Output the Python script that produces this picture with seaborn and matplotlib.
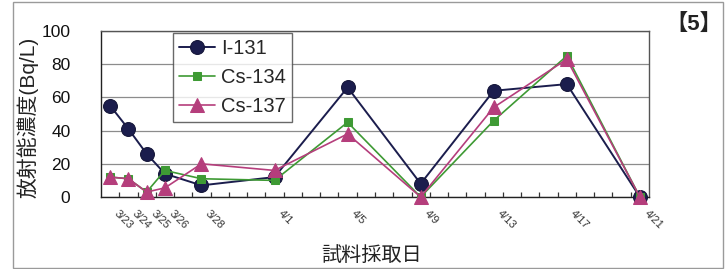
import matplotlib
matplotlib.use("Agg")
import matplotlib.pyplot as plt
import matplotlib.patches as mpatches
import matplotlib.transforms as mtransforms
import seaborn as sns
import pandas as pd
import numpy as np

# ---- data ----
dates = ["3/23", "3/24", "3/25", "3/26", "3/28", "4/1", "4/5", "4/9", "4/13", "4/17", "4/21"]
i131 = [55, 41, 26, 14, 7, 12, 66, 8, 64, 68, 0]
cs134 = [12, 11, 3, 16, 11, 10, 45, 0, 46, 85, 0]
cs137 = [12, 11, 3, 5.5, 20, 16, 38, 0, 54, 83, 0]
series_names = ["I-131", "Cs-134", "Cs-137"]
y_ticks = [0, 20, 40, 60, 80, 100]

sns.set_theme(style="white")
plt.rcParams['font.family'] = ['Liberation Sans', 'Noto Sans CJK JP', 'DejaVu Sans']

dt = pd.to_datetime(["2011/" + d for d in dates])
day = (dt - dt[0]).days.values
n_days = int(day[-1]) + 1

df = pd.DataFrame({"day": day, "I-131": i131, "Cs-134": cs134, "Cs-137": cs137})
long = df.melt(id_vars="day", var_name="nuclide", value_name="value")

fig = plt.figure(figsize=(7.28, 2.69), dpi=100)
ax = fig.add_axes([101/728, 1-197/269, 548/728, 166/269])

styles = {
    "I-131": dict(color="#1b1d4d", marker="o", markersize=10, linewidth=1.4, mec="#141538"),
    "Cs-134": dict(color="#3e9a34", marker="s", markersize=6, linewidth=1.2, mec="#3e9a34"),
    "Cs-137": dict(color="#b53e7c", marker="^", markersize=10.5, linewidth=1.2, mec="#b53e7c"),
}
for k, name in enumerate(series_names):
    st = styles[name]
    sub = long[long.nuclide == name]
    sns.lineplot(data=sub, x="day", y="value", ax=ax, color=st["color"], marker=st["marker"],
                 markersize=st["markersize"], linewidth=st["linewidth"],
                 markeredgecolor=st["mec"], label=name, zorder=3 + k, clip_on=False)

ax.set_xlim(-0.5, n_days - 0.5)
ax.set_ylim(0, 100)
ax.set_yticks(y_ticks)
ax.set_yticklabels([str(v) for v in y_ticks], fontsize=12.5)
ax.tick_params(axis='y', length=0, pad=22, colors="#111111")
ax.yaxis.grid(True, color="#8c8c8c", linewidth=0.9)
ax.set_axisbelow(True)

ax.set_xticks(day)
ax.set_xticklabels(dates, fontsize=8, rotation=-45, ha='left', va='top')
ax.set_xticks(np.arange(n_days - 1) + 0.5, minor=True)
ax.tick_params(axis='x', which='major', length=0, pad=8.5, colors="#333333")
ax.tick_params(axis='x', which='minor', direction='in', length=3.5, width=0.9, color="#333333", bottom=True)
offset = mtransforms.ScaledTranslation(2/100, 0, fig.dpi_scale_trans)
for lbl in ax.get_xticklabels():
    lbl.set_transform(lbl.get_transform() + offset)

for sp in ax.spines.values():
    sp.set_color("#555555")
    sp.set_linewidth(1.0)
ax.spines['bottom'].set_color("#222222")
ax.spines['left'].set_color("#222222")

ax.set_xlabel("")
ax.set_ylabel("")
fig.text(28/728, 1-117/269, "放射能濃度(Bq/L)", rotation=90, ha='center', va='center', fontsize=15,
         color="#222222")
fig.text(372/728, 1-255/269, "試料採取日", ha='center', va='center', fontsize=14.5, color="#222222")
fig.text(694/728, 1-25/269, "【5】", ha='center', va='center', fontsize=16, color="#222222",
         fontweight='bold')

leg = ax.legend(loc='upper left', bbox_to_anchor=(173/728, 1-33/269), bbox_transform=fig.transFigure,
                fontsize=14.5, frameon=True, fancybox=False, edgecolor="#444444",
                handlelength=1.8, handletextpad=0.3, labelspacing=0.5, borderpad=0.3,
                borderaxespad=0)
leg.get_frame().set_linewidth(1.0)
leg.set_zorder(10)

fig.patches.append(mpatches.Rectangle((13/728, 1/269), 710/728, 266/269, transform=fig.transFigure,
                                      fill=False, edgecolor="#9a9a9a", linewidth=1.0))

fig.savefig("out.png", dpi=100)
